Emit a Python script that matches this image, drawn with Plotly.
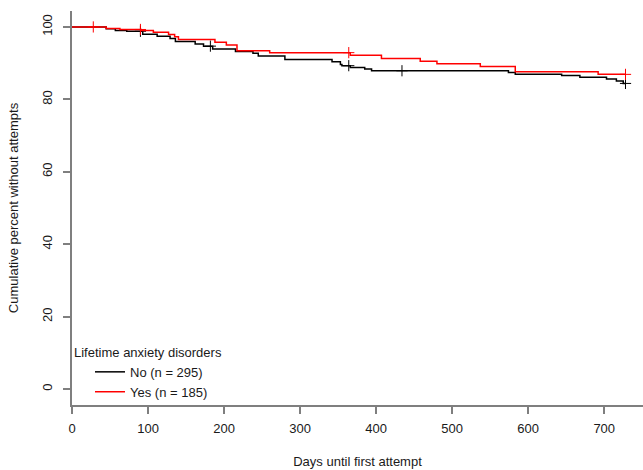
import numpy as np
import plotly.graph_objects as go

# ---- data (Kaplan-Meier style step curves) ----
no_days = [0, 45, 57, 72, 93, 112, 129, 136, 162, 173, 185, 215, 238, 245, 280,
           342, 353, 355, 366, 385, 394, 574, 583, 644, 668, 703, 716, 725, 728]
no_surv = [100, 99.5, 99.0, 98.8, 98.0, 97.4, 96.8, 96.0, 95.3, 94.7, 93.9, 93.2, 92.7,
           92.0, 91.0, 90.4, 89.6, 89.3, 88.8, 88.4, 87.9, 87.4, 86.9, 86.6, 86.1,
           85.6, 85.1, 84.4, 84.4]
no_censor = [90, 182, 364, 434, 728]

yes_days = [0, 45, 63, 91, 107, 127, 135, 140, 188, 203, 217, 260, 366, 407, 458,
            480, 537, 583, 692, 728]
yes_surv = [100, 99.6, 99.3, 99.0, 98.5, 97.9, 97.3, 96.5, 95.8, 95.0, 93.4, 92.9,
            92.2, 91.3, 90.5, 89.8, 89.1, 87.6, 86.9, 86.9]
yes_censor = [28, 90, 364, 728]

x_ticks = [0, 100, 200, 300, 400, 500, 600, 700]
y_ticks = [0, 20, 40, 60, 80, 100]


def surv_at(days, surv, t):
    idx = np.searchsorted(days, t, side="right") - 1
    return surv[idx]


FONT = "Liberation Sans, Arial, sans-serif"
TXT = "#1a1a1a"
fig = go.Figure()

groups = [
    ("No (n = 295)", no_days, no_surv, no_censor, "#000000"),
    ("Yes (n = 185)", yes_days, yes_surv, yes_censor, "#ff0000"),
]
for name, d, s, c, col in groups:
    fig.add_trace(go.Scatter(
        x=d, y=s, mode="lines", line=dict(color=col, width=1.5, shape="hv"),
        name=name, showlegend=True))
    fig.add_trace(go.Scatter(
        x=c, y=[surv_at(d, s, t) for t in c], mode="markers",
        marker=dict(symbol="cross-thin", size=8, line=dict(color=col, width=1)),
        showlegend=False, hoverinfo="skip"))

axis_common = dict(
    showline=True, linecolor="#7f7f7f", linewidth=1.5,
    ticks="outside", ticklen=7, tickcolor="#7f7f7f", tickwidth=1.5,
    showgrid=False, zeroline=False, automargin=False,
    tickfont=dict(family=FONT, size=13, color=TXT),
    mirror=False,
)

fig.update_layout(
    width=643, height=470,
    margin=dict(l=72, r=0, t=11, b=65),
    paper_bgcolor="white", plot_bgcolor="white",
    font=dict(family=FONT, size=13, color=TXT),
    xaxis=dict(range=[0, 751], tickvals=x_ticks, ticklabelstandoff=4,
               title=dict(text="Days until first attempt", standoff=22,
                          font=dict(family=FONT, size=13, color=TXT)),
               **axis_common),
    yaxis=dict(range=[-4.4, 104.4], tickvals=y_ticks, tickangle=-90,
               ticklabelstandoff=6,
               title=dict(text="Cumulative percent without attempts", standoff=18,
                          font=dict(family=FONT, size=13, color=TXT)),
               **axis_common),
    legend=dict(
        x=0.0, y=0.165, xanchor="left", yanchor="top",
        bgcolor="rgba(0,0,0,0)",
        title=dict(text="Lifetime anxiety disorders",
                   font=dict(family=FONT, size=13, color=TXT)),
        font=dict(family=FONT, size=13, color=TXT),
        indentation=18, tracegroupgap=0,
    ),
    showlegend=True,
)

fig.write_html(
    "out.html",
    config={"displayModeBar": False},
    post_script="document.body.style.margin='0';document.body.style.overflow='hidden';",
)
